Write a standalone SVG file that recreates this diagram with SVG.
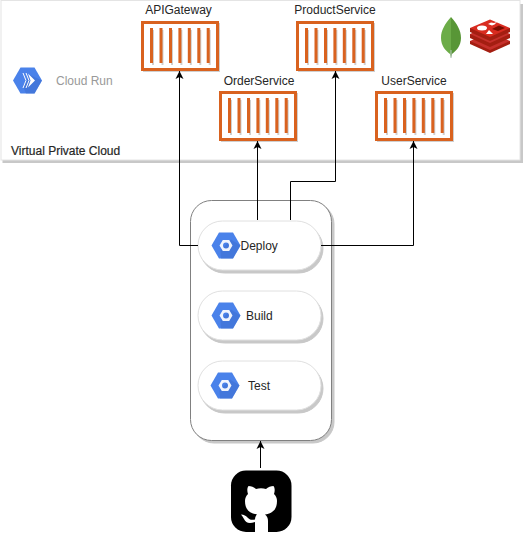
<svg xmlns="http://www.w3.org/2000/svg" width="523" height="533" viewBox="0 0 523 533">
<style>
text{font-family:"Liberation Sans",Arial,sans-serif;font-size:12px;fill:#262626}
.conn{fill:none;stroke:#000;stroke-width:1}
.sh{fill:#c8c8c8;stroke:#c8c8c8}
.pill{fill:#fff;stroke:#e0e0e0;stroke-width:1}
.hexA{fill:#4a82ea}
.hexB{fill:#3f6fd0}
</style>
<defs>
<marker id="arrow" markerUnits="userSpaceOnUse" markerWidth="10" markerHeight="10" refX="8" refY="4" orient="auto" viewBox="0 0 10 10" overflow="visible">
<path d="M8 4L0 8L2 4L0 0Z" fill="#000"/>
</marker>
<g id="container">
<rect x="3" y="3" width="75" height="47" fill="none" stroke="#cfcfcf" stroke-width="2"/>
<rect x="1.500" y="1.500" width="75" height="47" fill="#fff" stroke="#d9621f" stroke-width="3"/>
<g fill="#cfcfcf">
<rect x="11" y="9" width="2" height="35"/><rect x="20.500" y="9" width="2" height="35"/><rect x="30" y="9" width="2" height="35"/><rect x="39.400" y="9" width="2" height="35"/><rect x="48.800" y="9" width="2" height="35"/><rect x="58.300" y="9" width="2" height="35"/><rect x="67.700" y="9" width="2" height="35"/>
</g>
<g fill="#d9621f">
<rect x="9" y="7" width="3" height="35"/><rect x="18.500" y="7" width="3" height="35"/><rect x="28" y="7" width="3" height="35"/><rect x="37.400" y="7" width="3" height="35"/><rect x="46.800" y="7" width="3" height="35"/><rect x="56.300" y="7" width="3" height="35"/><rect x="65.700" y="7" width="3" height="35"/>
</g>
</g>
<g id="gcp">
<path class="hexA" d="M-14.500 0L-7 -13H7L14.500 0L7 13H-7Z"/>
<path class="hexB" d="M14.500 0L7 13H-5L-5.500 5L5 -6Z" opacity=".6"/>
<path d="M-6.500 0L-3.200 -5.600H3.200L6.500 0L3.200 5.600H-3.200ZM-3 0A3 3 0 0 0 3 0A3 3 0 0 0 -3 0Z" fill="#fff" fill-rule="evenodd" opacity=".92"/>
</g>
</defs>

<g id="vpc">
<rect x="2.500" y="4" width="520.500" height="159" fill="#c8c8c8"/>
<rect x="1" y="0.500" width="519" height="159.500" fill="#fff" stroke="#e4e4e4"/>
<text x="11" y="155" style="stroke:#262626;stroke-width:.2">Virtual Private Cloud</text>
</g>

<g id="cloud-run">
<path class="hexA" d="M13 80.500L20.500 67.500H34.500L42 80.500L34.500 93.500H20.500Z"/>
<path class="hexB" d="M42 80.500L34.500 93.500H26L23 86L30 75Z" opacity=".6"/>
<path d="M23 73L26 80.500L23 88M26 73L29 80.500L26 88" fill="none" stroke="#fff" stroke-width="1"/>
<path d="M28 73.500L35 80.500L28 87.500L30.500 80.500Z" fill="#fff"/>
<text x="56" y="85" style="fill:#999">Cloud Run</text>
</g>

<g id="mongodb">
<path d="M451 17C445 24 441 30 441 38C441 46 446 51 450 54L451 58Z" fill="#6cac48"/>
<path d="M451 17C457 24 461 30 461 38C461 46 456 51 452 54L451 58Z" fill="#589636"/>
<rect x="450.500" y="50" width="1" height="8" fill="#b8c4c2"/>
</g>
<g id="redis">
<path d="M470 41L470 44L490 53L510 44L510 41Z" fill="#a41e11"/>
<path d="M470 41L490 32L510 41L490 50Z" fill="#c6302b"/>
<path d="M470 34L470 38L490 47L510 38L510 34Z" fill="#a41e11"/>
<path d="M470 34L490 25L510 34L490 43Z" fill="#c6302b"/>
<path d="M470 28L470 32L490 41L510 32L510 28Z" fill="#a41e11"/>
<path d="M470 28L490 19.500L510 28L490 37Z" fill="#d82c20"/>
<ellipse cx="482" cy="28" rx="5" ry="2.500" fill="#fff"/>
<path d="M486 34L489 30L493 34Z" fill="#fff"/>
<path d="M488 24L491 22.500L494 23L497 22L494.500 24.500L492 25.500Z" fill="#fff"/>
<path d="M492 29L499 25.500L505 28L498 31Z" fill="#7a0c00"/>
</g>

<g id="apigateway">
<use href="#container" x="141" y="21"/>
<text x="178.500" y="14" text-anchor="middle">APIGateway</text>
</g>
<g id="orderservice">
<use href="#container" x="219" y="91"/>
<text x="259" y="85" text-anchor="middle">OrderService</text>
</g>
<g id="productservice">
<use href="#container" x="296" y="21"/>
<text x="335" y="14" text-anchor="middle">ProductService</text>
</g>
<g id="userservice">
<use href="#container" x="375" y="91"/>
<text x="414" y="85" text-anchor="middle">UserService</text>
</g>

<g id="pipeline">
<rect x="193" y="203" width="141" height="240" rx="21" class="sh"/>
<rect x="190.500" y="200.500" width="141" height="240" rx="21" fill="#fff" stroke="#808080"/>
</g>
<g id="deploy">
<rect x="200" y="224" width="123" height="49" rx="24.500" class="sh"/>
<rect x="198" y="221" width="123" height="49" rx="24.500" class="pill"/>
<use href="#gcp" x="226" y="245.500"/>
<text x="240.500" y="250">Deploy</text>
</g>
<g id="build">
<rect x="200" y="294" width="123" height="49" rx="24.500" class="sh"/>
<rect x="198" y="291" width="123" height="49" rx="24.500" class="pill"/>
<use href="#gcp" x="226" y="315.500"/>
<text x="246" y="320">Build</text>
</g>
<g id="test">
<rect x="200" y="364" width="123" height="49" rx="24.500" class="sh"/>
<rect x="198" y="361" width="123" height="49" rx="24.500" class="pill"/>
<use href="#gcp" x="225" y="385.500"/>
<text x="248" y="390">Test</text>
</g>

<g id="github">
<rect x="231" y="470.500" width="60.500" height="61.500" rx="15" fill="#000"/>
<path d="M255 532V522C249 524 246 523 244 519C243 517 242 516 241 514.500C244 514.500 246 516 248 518C250 520 252 520 255 519.500C255 517 256 515.500 257 514.500C250 513.500 245 510 245 501C245 498 246 496 248 494C247 491 247 488 248.500 486C251 486 254 487 256 489C259 488 263 488 266 489C268 487 271 486 273.500 486C275 488 275 491 274 494C276 496 277 498 277 501C277 510 272 513.500 265 514.500C267 516 268 518 268 521V532Z" fill="#fff"/>
</g>

<g id="connectors">
<path class="conn" marker-end="url(#arrow)" d="M198 245.500H179.500V71"/>
<path class="conn" marker-end="url(#arrow)" d="M257.500 220V141"/>
<path class="conn" marker-end="url(#arrow)" d="M290.500 220V181.500H335.500V71"/>
<path class="conn" marker-end="url(#arrow)" d="M321 245.500H413.500V141"/>
<path class="conn" marker-end="url(#arrow)" d="M260.500 468V441"/>
</g>
</svg>
